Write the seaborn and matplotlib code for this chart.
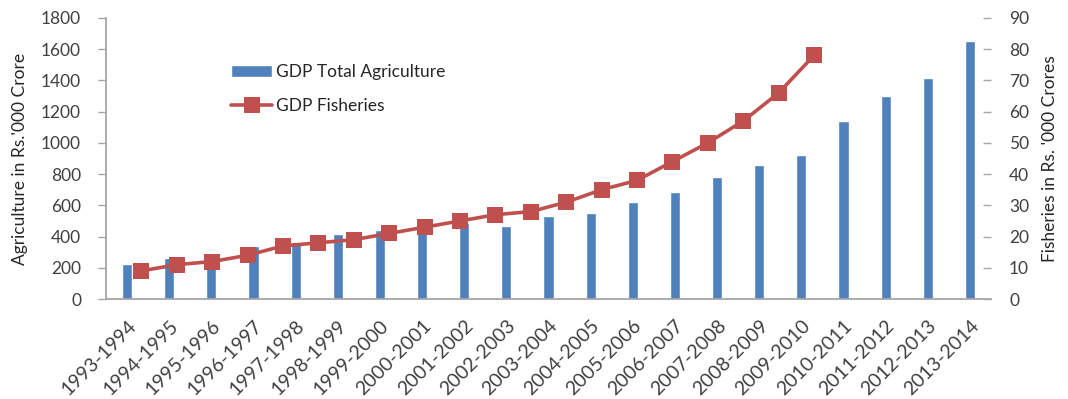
import matplotlib
matplotlib.use("Agg")
import matplotlib.pyplot as plt
import seaborn as sns
import pandas as pd
import numpy as np

years = ["1993-1994", "1994-1995", "1995-1996", "1996-1997", "1997-1998", "1998-1999",
         "1999-2000", "2000-2001", "2001-2002", "2002-2003", "2003-2004", "2004-2005",
         "2005-2006", "2006-2007", "2007-2008", "2008-2009", "2009-2010", "2010-2011",
         "2011-2012", "2012-2013", "2013-2014"]
agriculture = [226, 262, 270, 341, 362, 416, 444, 465, 484, 470, 529, 551, 623, 685,
               779, 860, 924, 1142, 1298, 1418, 1653]
fisheries = [9, 11, 12, 14, 17, 18, 19, 21, 23, 25, 27, 28, 31, 35, 38, 44, 50, 57, 66, 78]

sns.set_theme(style="white")
plt.rcParams['font.family'] = ['Lato', 'DejaVu Sans']

BAR = "#4F81BD"
LINE = "#C0504D"
GRID = "#A6A6A6"
TXT = "#404040"

fig = plt.figure(figsize=(10.68, 3.99), dpi=100)
L, R, T, B = 106/1068, 991/1068, 18/399, 299/399
ax = fig.add_axes([L, 1-B, R-L, B-T])

df = pd.DataFrame({"year": years, "agri": agriculture})
sns.barplot(data=df, x="year", y="agri", color=BAR, width=0.24, ax=ax,
            saturation=1, label="GDP Total Agriculture")
ax.set_xlim(-0.5, len(years)-0.5)
ax.set_ylim(0, 1800)
ax.set_yticks(np.arange(0, 1801, 200))
ax.set_xlabel("")
ax.set_ylabel("Agriculture in Rs.'000 Crore", fontsize=12.5, color="#262626", labelpad=9)
ax.tick_params(axis='y', direction='out', length=6, width=1, color=GRID,
               labelsize=12.5, labelcolor=TXT, pad=12, left=True)
ax.tick_params(axis='x', length=0, labelsize=14, labelcolor=TXT, pad=13)
plt.setp(ax.get_xticklabels(), rotation=45, ha='right', rotation_mode='anchor')
for s in ['top', 'right']:
    ax.spines[s].set_visible(False)
for s in ['left', 'bottom']:
    ax.spines[s].set_color(GRID)
    ax.spines[s].set_linewidth(1.3)

# secondary axis (its own category scale like the source)
ax2 = fig.add_axes([L, 1-B, R-L, B-T], frameon=False)
fdf = pd.DataFrame({"pos": np.arange(1, len(fisheries)+1), "fish": fisheries})
sns.lineplot(data=fdf, x="pos", y="fish", ax=ax2, color=LINE, linewidth=2.6,
             marker='s', markersize=11, markeredgewidth=0, label="GDP Fisheries")
ax2.set_xlim(0, 25)
ax2.set_ylim(0, 90)
ax2.set_yticks(np.arange(0, 91, 10))
ax2.xaxis.set_visible(False)
ax2.yaxis.tick_right()
ax2.yaxis.set_label_position("right")
ax2.spines['right'].set_visible(True)
ax2.spines['right'].set_color(GRID)
ax2.spines['right'].set_linewidth(1.3)
for s in ['top', 'left', 'bottom']:
    ax2.spines[s].set_visible(False)
ax2.tick_params(axis='y', direction='in', length=6, width=1, color=GRID,
                labelsize=12.5, labelcolor=TXT, pad=13, right=True)
ax2.set_ylabel("Fisheries in Rs. '000 Crores", fontsize=12.5, color="#262626", labelpad=9)
if ax2.get_legend():
    ax2.get_legend().remove()
if ax.get_legend():
    ax.get_legend().remove()

h1, l1 = ax.get_legend_handles_labels()
h2, l2 = ax2.get_legend_handles_labels()
fig.legend(h1[:1] + h2[:1], ["GDP Total Agriculture", "GDP Fisheries"],
           loc='upper left', bbox_to_anchor=(222/1068, 1-55/399), frameon=False,
           fontsize=12.5, labelspacing=1.05, handlelength=2.4, handletextpad=0.2,
           borderpad=0, labelcolor="#262626")

fig.savefig("out.png", dpi=100)
